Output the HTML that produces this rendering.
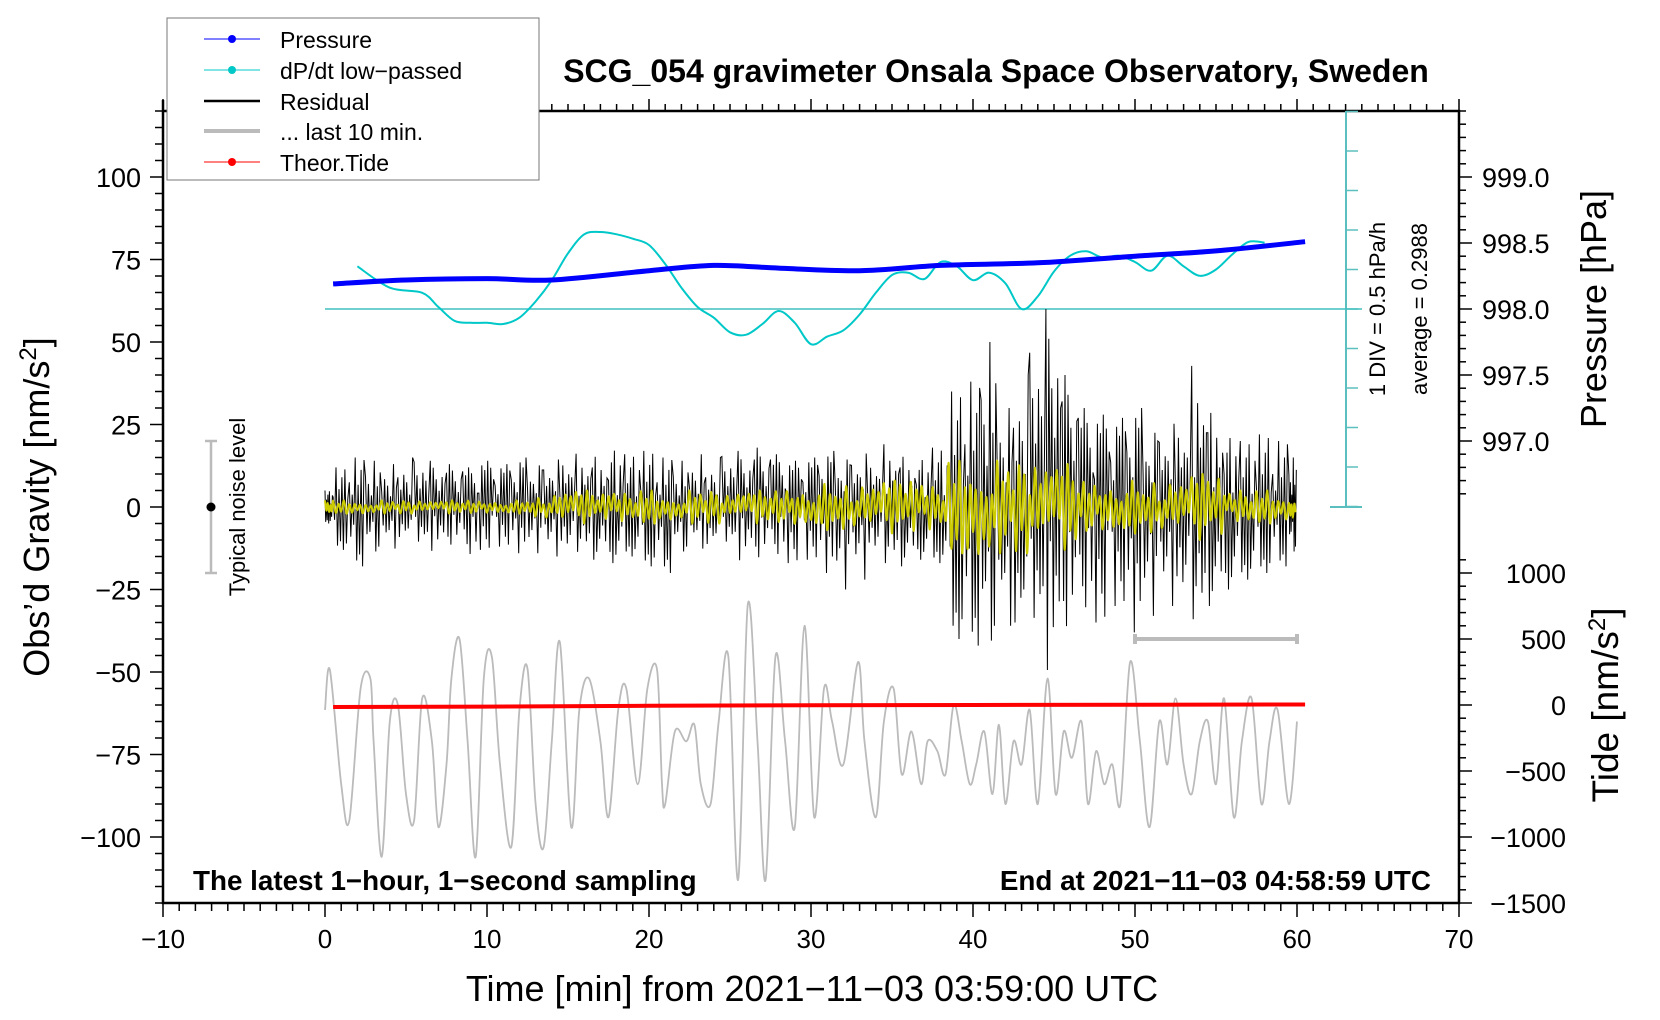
<!DOCTYPE html>
<html><head><meta charset="utf-8"><style>
body{margin:0;background:#fff}
svg{display:block;font-family:"Liberation Sans",sans-serif}
</style></head><body>
<svg id="c" width="1660" height="1020" viewBox="0 0 1660 1020">
<g id="g-axes"></g>
<g id="g-data"></g>
<g id="g-text">
<text x="996" y="82" font-size="32" font-weight="bold" text-anchor="middle">SCG_054 gravimeter Onsala Space Observatory, Sweden</text>
<text x="812" y="1001" font-size="36" text-anchor="middle">Time [min] from 2021−11−03 03:59:00 UTC</text>
<text transform="translate(49,507) rotate(-90)" font-size="36" text-anchor="middle">Obs’d Gravity [nm/s<tspan font-size="24" dy="-13">2</tspan><tspan dy="13">]</tspan></text>
<text transform="translate(1606,309) rotate(-90)" font-size="36" text-anchor="middle">Pressure [hPa]</text>
<text transform="translate(1618,705) rotate(-90)" font-size="37" text-anchor="middle">Tide [nm/s<tspan font-size="24" dy="-13">2</tspan><tspan dy="13">]</tspan></text>
<text x="193" y="890" font-size="27.8" font-weight="bold">The latest 1−hour, 1−second sampling</text>
<text x="1431" y="890" font-size="27.8" font-weight="bold" text-anchor="end">End at 2021−11−03 04:58:59 UTC</text>
<text transform="translate(1385,309) rotate(-90)" font-size="22" text-anchor="middle">1 DIV = 0.5 hPa/h</text>
<text transform="translate(1427,309) rotate(-90)" font-size="22" text-anchor="middle">average = 0.2988</text>
<text transform="translate(245,507) rotate(-90)" font-size="22" text-anchor="middle">Typical noise level</text>
</g>
<g id="legend">
<rect x="167" y="18" width="372" height="162" fill="#fff" stroke="#777" stroke-width="1"/>
<g><line x1="204" y1="39" x2="260" y2="39" stroke="#00f" stroke-width="1"/><circle cx="232" cy="39" r="4" fill="#00f"/><text x="280" y="48" font-size="23">Pressure</text></g>
<g><line x1="204" y1="70" x2="260" y2="70" stroke="#00c8c8" stroke-width="1"/><circle cx="232" cy="70" r="4" fill="#00c8c8"/><text x="280" y="79" font-size="23">dP/dt low−passed</text></g>
<g><line x1="204" y1="101" x2="260" y2="101" stroke="#000" stroke-width="2.5"/><text x="280" y="110" font-size="23">Residual</text></g>
<g><line x1="204" y1="131" x2="260" y2="131" stroke="#bbb" stroke-width="4"/><text x="280" y="140" font-size="23">... last 10 min.</text></g>
<g><line x1="204" y1="162" x2="260" y2="162" stroke="#f00" stroke-width="1"/><circle cx="232" cy="162" r="4" fill="#f00"/><text x="280" y="171" font-size="23">Theor.Tide</text></g>
</g>
</svg>
<script>
// ---- data ----
const pressT=[0.5,5,10,14,20,24,28,33,38,44,50,55,60.5];
const pressV=[998.19,998.22,998.23,998.22,998.29,998.33,998.31,998.29,998.33,998.35,998.40,998.44,998.51];
const dpT=[2,4,6,7,8,9,10,11,12,13,14,15,16,17,18,19,20,21,22,23,24,25,26,27,28,29,30,31,32,33,34,35,36,37,38,39,40,41,42,43,44,45,46,47,48,49,50,51,52,53,54,55,56,57,58];
const dpDiv=[1.08,0.54,0.41,0.05,-0.30,-0.35,-0.35,-0.38,-0.22,0.19,0.73,1.41,1.89,1.95,1.89,1.78,1.62,1.14,0.54,0.05,-0.22,-0.59,-0.65,-0.38,-0.05,-0.35,-0.89,-0.70,-0.54,-0.14,0.41,0.86,0.92,0.76,1.19,1.08,0.73,0.92,0.65,0,0.32,0.95,1.35,1.46,1.30,1.35,1.19,0.97,1.35,1.08,0.84,1.00,1.38,1.70,1.68];
const resHi=[5,12,15,14,13,15,16,14,13,12,14,13,15,14,16,18,17,16,18,16,17,15,14,16,15,18,17,18,16,14,15,17,16,18,17,20,16,15,18,35,38,50,30,40,55,60,40,30,28,27,30,25,28,30,45,30,22,20,22,20,15];
const resLo=[-5,-13,-18,-15,-14,-13,-15,-14,-12,-15,-13,-12,-14,-14,-15,-17,-16,-16,-17,-15,-18,-20,-15,-14,-16,-15,-17,-16,-15,-17,-16,-20,-25,-22,-18,-20,-18,-16,-17,-40,-42,-45,-40,-50,-48,-52,-38,-32,-35,-30,-38,-33,-30,-35,-40,-30,-25,-22,-20,-18,-15];
const yelAmp=[2,2,2,2,2,2,2,2,2,2,2,2,2,3,4,5,5,4,5,4,5,4,4,5,5,4,5,5,5,6,6,7,7,7,7,8,8,8,6,14,15,15,14,14,14,14,13,8,8,8,8,8,8,8,10,9,5,5,5,4,4];
const grayT=[0,0.3,1,1.5,2.2,2.8,3,3.5,4,4.5,5,5.5,6,6.6,7,7.5,7.8,8.3,8.8,9.3,9.8,10.3,10.8,11.5,12,12.5,13,13.5,14,14.5,15.2,15.7,16.3,17,17.5,18.1,18.6,19.3,19.9,20.5,20.8,21,21.6,22.3,22.8,23.2,23.8,24.3,24.9,25.5,26.1,26.7,27.2,27.8,28.4,29,29.6,30.2,30.8,31.3,32,32.9,33.3,34,34.5,35.1,35.6,36.2,36.8,37.2,37.8,38.3,38.8,39.3,39.8,40.2,40.7,41.2,41.6,42,42.5,43,43.5,44,44.6,45.1,45.6,46.1,46.7,47.1,47.6,48.1,48.6,49.1,49.7,50.3,50.9,51.5,52,52.5,53,53.5,54,54.5,55,55.5,56.1,56.6,57.2,57.8,58.3,58.8,59.5,60];
const grayV=[-61.5,-49.4,-84,-95,-55,-52,-71,-106,-65,-60,-87,-95,-58,-71,-97,-78,-52,-40,-71,-106,-52,-45.5,-78,-103,-61.5,-49,-90,-103,-71,-41,-97,-61.5,-52,-71,-94,-61.5,-55,-84,-55,-49.4,-84,-90,-68,-71,-66,-84,-90,-65,-45.5,-113,-29.5,-71,-113,-45.5,-71,-97,-36,-94,-55,-65,-78,-47,-71,-94,-65,-55,-81,-68,-84,-71,-74,-81,-60,-71,-84,-78,-68,-87,-66,-90,-71,-78,-61.5,-90,-52,-87,-68,-76,-65,-90,-74,-84,-78,-90,-47,-71,-97,-65,-78,-58,-78,-87,-71,-65,-84,-58,-94,-71,-58,-90,-71,-61.5,-90,-65];
const tideT=[0.5,10,20,30,40,50,60.5];
const tideV=[-15,-12,-6,-2,0,2,4];
const xTicks=[-10,0,10,20,30,40,50,60,70];
const gTicks=[-100,-75,-50,-25,0,25,50,75,100];
const pTicks=[997.0,997.5,998.0,998.5,999.0];
const tTicks=[-1500,-1000,-500,0,500,1000];
// ---- scales ----
const X=t=>325+16.2*t, Yg=g=>507-3.3*g, Yp=p=>309-(p-998)*132, Yt=v=>705-v*0.132, Yc=d=>309-d*39.5;
const NS='http://www.w3.org/2000/svg';
function mk(par,tag,attrs){const e=document.createElementNS(NS,tag);for(const k in attrs)e.setAttribute(k,attrs[k]);par.appendChild(e);return e;}
const ax=document.getElementById('g-axes'), dg=document.getElementById('g-data');
let fr=mk(ax,'path',{d:'M163,100 V903 H1459 V111 H163',fill:'none',stroke:'#000','stroke-width':2.5});


for(let t=-10;t<=70;t++){const x=X(t),maj=t%10===0;
 mk(ax,'line',{x1:x,y1:903,x2:x,y2:maj?917:911,stroke:'#000','stroke-width':1.5});
 mk(ax,'line',{x1:x,y1:111,x2:x,y2:maj?99:104,stroke:'#000','stroke-width':1.5});}
xTicks.forEach(t=>{const e=mk(ax,'text',{x:X(t),y:948,'font-size':26,'text-anchor':'middle'});e.textContent=String(t).replace('-','−');
 
 });
for(let g=-120;g<=120;g+=5){mk(ax,'line',{x1:163,y1:Yg(g),x2:g%25===0?150:155,y2:Yg(g),stroke:'#000','stroke-width':1.5});}
gTicks.forEach(g=>{const e=mk(ax,'text',{x:141,y:Yg(g)+10,'font-size':27,'text-anchor':'end'});e.textContent=String(g).replace('-','−');
 
 });
for(let i=0;i<=29;i++){const p=999.5-i*0.1,y=Yp(p);const maj=i%5===0&&i>0;mk(ax,'line',{x1:1459,y1:y,x2:maj?1472:1466,y2:y,stroke:'#000','stroke-width':1.5});}
pTicks.forEach(p=>{const e=mk(ax,'text',{x:1482,y:Yp(p)+10,'font-size':27});e.textContent=p.toFixed(1);
 
 });
for(let v=-1500;v<=1100;v+=100){const y=Yt(v);mk(ax,'line',{x1:1459,y1:y,x2:v%500===0?1472:1466,y2:y,stroke:'#000','stroke-width':1.5});}
tTicks.forEach(v=>{const e=mk(ax,'text',{x:1566,y:Yt(v)+10,'font-size':27,'text-anchor':'end'});e.textContent=String(v).replace('-','−');
 
 });
mk(ax,'line',{x1:1346,y1:111,x2:1346,y2:507,stroke:'#5cbfbf','stroke-width':2});
for(let i=-5;i<=5;i++){mk(ax,'line',{x1:1346,y1:Yc(i),x2:1358,y2:Yc(i),stroke:'#5cbfbf','stroke-width':1.5});}
mk(ax,'line',{x1:1330,y1:507,x2:1362,y2:507,stroke:'#5cbfbf','stroke-width':2});
mk(ax,'line',{x1:325,y1:309,x2:1362,y2:309,stroke:'#40c0c0','stroke-width':1.5});
mk(ax,'path',{d:`M211,${Yg(20)}V${Yg(-20)}M205,${Yg(20)}H217M205,${Yg(-20)}H217`,stroke:'#bbb','stroke-width':2.5,fill:'none'});
mk(ax,'circle',{cx:211,cy:Yg(0),r:4.5,fill:'#000'});
function smooth(xs,ys){let d=`M${xs[0]},${ys[0]}`;for(let i=0;i<xs.length-1;i++){const x0=xs[Math.max(i-1,0)],y0=ys[Math.max(i-1,0)],x1=xs[i],y1=ys[i],x2=xs[i+1],y2=ys[i+1],x3=xs[Math.min(i+2,xs.length-1)],y3=ys[Math.min(i+2,xs.length-1)];
 d+=` C${(x1+(x2-x0)/6).toFixed(1)},${(y1+(y2-y0)/6).toFixed(1)} ${(x2-(x3-x1)/6).toFixed(1)},${(y2-(y3-y1)/6).toFixed(1)} ${x2.toFixed(1)},${y2.toFixed(1)}`;}return d;}
let gp=mk(dg,'path',{d:smooth(grayT.map(X),grayV.map(Yg)),fill:'none',stroke:'#bbb','stroke-width':1.8});


let gb=mk(dg,'path',{d:`M${X(50)},${Yg(-40)}H${X(60)}M${X(50)},${Yg(-40)-5}v10M${X(60)},${Yg(-40)-5}v10`,stroke:'#bbb','stroke-width':4,fill:'none'});


const pat=[1,0.35,0.8,0.55,0.95,0.25,0.6,0.9,0.4,0.75,0.5,0.85,0.3,0.7,0.45,0.65,1,0.5,0.2];
let rd='';let first=true;
for(let i=0;i<resHi.length;i++){const t0=Math.max(0,i-0.5),t1=Math.min(60,i+0.5);const n=11;
 for(let k=0;k<n;k++){const t=t0+(t1-t0)*k/n;const f=pat[(k*7+i*5)%pat.length];const v=(k%2===0?resHi[i]:resLo[i])*f;rd+=(first?'M':'L')+X(t).toFixed(1)+','+Yg(v).toFixed(1);first=false;}}
let rp=mk(dg,'path',{d:rd,fill:'none',stroke:'#000','stroke-width':1});


let yx=[],yy=[];
for(let i=0;i<yelAmp.length;i++){const t0=Math.max(0,i-0.5),t1=Math.min(60,i+0.5);const n=6;
 for(let k=0;k<n;k++){const t=t0+(t1-t0)*k/n;const f=pat[(k*3+i*4)%pat.length];yx.push(X(t));yy.push(Yg((k%2===0?1:-1)*yelAmp[i]*f));}}
let yp=mk(dg,'path',{d:smooth(yx,yy),fill:'none',stroke:'#cccc00','stroke-width':2});


let tp=mk(dg,'path',{d:'M'+tideT.map((t,i)=>X(t)+','+Yt(tideV[i])).join('L'),fill:'none',stroke:'#f00','stroke-width':4});


let cp=mk(dg,'path',{d:smooth(dpT.map(X),dpDiv.map(Yc)),fill:'none',stroke:'#00c8c8','stroke-width':2});


let pp=mk(dg,'path',{d:smooth(pressT.map(X),pressV.map(Yp)),fill:'none',stroke:'#0000ff','stroke-width':5});


</script>
</body></html>
